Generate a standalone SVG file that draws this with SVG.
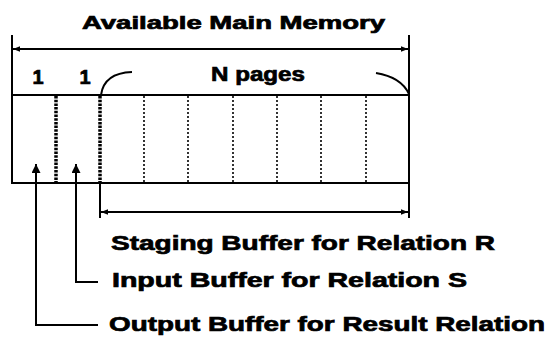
<svg xmlns="http://www.w3.org/2000/svg" width="551" height="337" viewBox="0 0 551 337">
<style>
.t{font-family:"Liberation Sans",Arial,sans-serif;font-weight:bold;fill:#000;stroke:#000;stroke-width:0.7}
.s{stroke:#000;fill:none;stroke-width:2}
.thick{stroke:#000;stroke-width:3.5;stroke-dasharray:2.5 1.2;fill:none}
.thin{stroke:#000;stroke-width:1.6;stroke-dasharray:2 2;fill:none}
</style>
<defs>
<marker id="ah" viewBox="0 0 10 10" refX="10" refY="5" markerWidth="12" markerHeight="7" markerUnits="userSpaceOnUse" orient="auto-start-reverse">
<path d="M0,1 L10,5 L0,9 Z" fill="#000"/>
</marker>
<marker id="av" viewBox="0 0 10 10" refX="10" refY="5" markerWidth="16" markerHeight="9" markerUnits="userSpaceOnUse" orient="auto">
<path d="M0,0 L10,5 L0,10 Z" fill="#000"/>
</marker>
</defs>
<rect width="551" height="337" fill="#fff"/>
<g id="title"><text class="t" x="82" y="29" font-size="18" textLength="303" lengthAdjust="spacingAndGlyphs">Available Main Memory</text></g>
<g id="memory">
<rect class="s" x="12" y="95" width="397" height="88" stroke-width="2.5"/>
<line class="thick" x1="56" y1="96" x2="56" y2="182"/>
<line class="thick" x1="100" y1="96" x2="100" y2="182"/>
<line class="thin" x1="144" y1="96" x2="144" y2="182"/>
<line class="thin" x1="188" y1="96" x2="188" y2="182"/>
<line class="thin" x1="233" y1="96" x2="233" y2="182"/>
<line class="thin" x1="277" y1="96" x2="277" y2="182"/>
<line class="thin" x1="321" y1="96" x2="321" y2="182"/>
<line class="thin" x1="366" y1="96" x2="366" y2="182"/>
</g>
<g id="labels">
<text class="t" x="38" y="84" font-size="20" text-anchor="middle">1</text>
<text class="t" x="85" y="84" font-size="20" text-anchor="middle">1</text>
<text class="t" x="211" y="81" font-size="20" textLength="94" lengthAdjust="spacingAndGlyphs">N pages</text>
</g>
<g id="staging"><text class="t" x="111" y="250" font-size="20" textLength="384" lengthAdjust="spacingAndGlyphs">Staging Buffer for Relation R</text></g>
<g id="input"><text class="t" x="112" y="287" font-size="20" textLength="355" lengthAdjust="spacingAndGlyphs">Input Buffer for Relation S</text></g>
<g id="output"><text class="t" x="109" y="331" font-size="20" textLength="436" lengthAdjust="spacingAndGlyphs">Output Buffer for Result Relation</text></g>
<g id="connectors">
<line class="s" x1="12" y1="35" x2="12" y2="95"/>
<line class="s" x1="409" y1="35" x2="409" y2="218"/>
<line class="s" x1="100" y1="183" x2="100" y2="218"/>
<line class="s" x1="13" y1="49" x2="408" y2="49" stroke-width="1.8" marker-start="url(#ah)" marker-end="url(#ah)"/>
<line class="s" x1="101" y1="212" x2="408" y2="212" stroke-width="1.8" marker-start="url(#ah)" marker-end="url(#ah)"/>
<path class="s" d="M101,95 Q104,73 132,72"/>
<path class="s" d="M376,73 Q401,77 409,94"/>
<polyline class="s" points="98,325 36,325 36,164" marker-end="url(#av)"/>
<polyline class="s" points="98,282 76,282 76,164" marker-end="url(#av)"/>
</g>
</svg>
